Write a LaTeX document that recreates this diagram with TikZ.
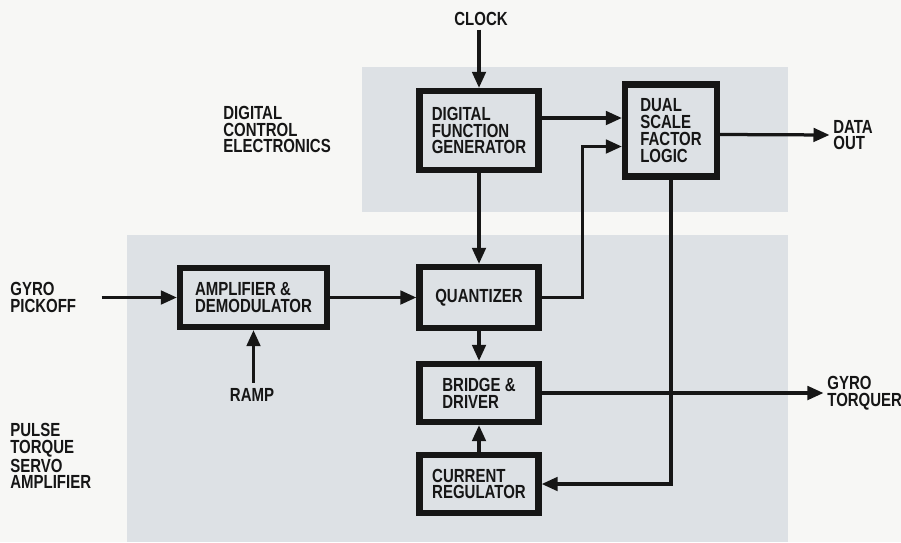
\documentclass[tikz,border=0pt]{standalone}
\usepackage{fontspec}
\setmainfont{Liberation Sans}[FakeStretch=0.79]
\usepackage{xcolor}
\definecolor{panelgray}{RGB}{221,225,229}
\definecolor{papercol}{RGB}{247,247,245}
\definecolor{inkcol}{RGB}{22,22,22}
\usetikzlibrary{arrows.meta,positioning,calc}

\begin{document}
\begin{tikzpicture}[
    blockbox/.style={draw=inkcol,line width=0.125cm,align=left,inner sep=2pt,
        font=\fontsize{10.8}{9.6}\selectfont\bfseries,text=inkcol},
    lbl/.style={align=left,inner sep=0pt,
        font=\fontsize{10.8}{9.6}\selectfont\bfseries,text=inkcol},
    arr/.style={-{Triangle[length=0.32cm,width=0.27cm]},line width=0.065cm,draw=inkcol},
    panel/.style={fill=panelgray,draw=none}]
  %% paper and the two shaded panels
  \fill[papercol] (0,0) rectangle (18.02,10.84);
  \useasboundingbox (0,0) rectangle (18.02,10.84);
  \path[panel] (7.24,9.50) rectangle (15.76,6.60);
  \path[panel] (2.54,6.14) rectangle (15.76,0);

  %% Digital control electronics
  \node[blockbox,minimum width=2.38cm,minimum height=1.58cm]
        (dfg) at (9.58,8.23) {DIGITAL\\FUNCTION\\GENERATOR};
  \node[blockbox,minimum width=1.84cm,minimum height=1.84cm]
        (dsf) at (13.42,8.23) {DUAL\\SCALE\\FACTOR\\LOGIC};
  %% Pulse torque servo amplifier
  \node[blockbox,minimum width=2.94cm,minimum height=1.18cm]
        (amp) at (5.07,4.89) {AMPLIFIER \&\\DEMODULATOR};
  \node[blockbox,minimum width=2.38cm,minimum height=1.22cm]
        (quant) at (9.58,4.89) {QUANTIZER};
  \node[blockbox,minimum width=2.38cm,minimum height=1.16cm]
        (bridge) at (9.58,2.98) {BRIDGE \&\\DRIVER};
  \node[blockbox,minimum width=2.38cm,minimum height=1.16cm]
        (curreg) at (9.58,1.16) {CURRENT\\REGULATOR};

  %% Outside labels
  \node[lbl] (clock) at (9.62,10.46) {CLOCK};
  \node[lbl,anchor=west] (dce) at (4.46,8.25) {DIGITAL\\CONTROL\\ELECTRONICS};
  \node[lbl,anchor=west] (pickoff) at (0.2,4.89) {GYRO\\PICKOFF};
  \node[lbl,anchor=west] (ptsa) at (0.2,1.72) {PULSE\\TORQUE\\SERVO\\AMPLIFIER};
  \node[lbl] (ramp) at (5.04,2.94) {RAMP};
  \node[lbl,anchor=west] (dataout) at (16.66,8.14) {DATA\\OUT};
  \node[lbl,anchor=west] (torquer) at (16.54,2.98) {GYRO\\TORQUER};

  %% Arrows
  \draw[arr,shorten <=2pt] (clock.south -| dfg.north) -- (dfg.north);
  \draw[arr] ($(dfg.east)+(0,0.25)$) -- ($(dsf.west)+(0,0.25)$);
  \draw[arr] (dfg.south) -- (quant.north);
  \draw[arr] (quant.east) -- ++(0.82,0) |- ($(dsf.west)+(0,-0.32)$);
  \draw[arr,shorten >=2pt] ($(dsf.east)+(0,-0.08)$) -- (dataout.west);
  \draw[arr] (dsf.south) |- (curreg.east);
  \draw[arr,shorten <=0.5cm] (pickoff.east) -- (amp.west);
  \draw[arr,shorten <=3pt] (ramp.north -| amp.south) -- (amp.south);
  \draw[arr] (amp.east) -- (quant.west);
  \draw[arr] (quant.south) -- (bridge.north);
  \draw[arr] (curreg.north) -- (bridge.south);
  \draw[arr,shorten >=2pt] (bridge.east) -- (torquer.west);
\end{tikzpicture}
\end{document}
